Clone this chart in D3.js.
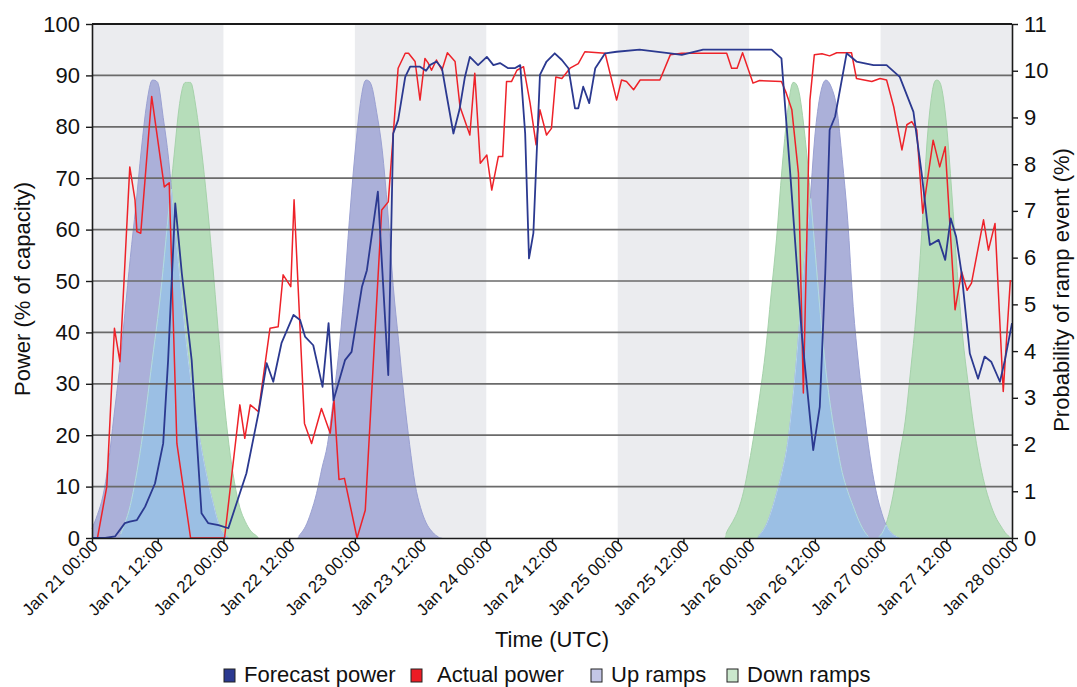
<!DOCTYPE html>
<html>
<head>
<meta charset="utf-8">
<script src="https://cdn.jsdelivr.net/npm/d3@7"></script>
<style>
  html, body { margin: 0; padding: 0; background: #ffffff; }
  svg { display: block; font-family: "Liberation Sans", Arial, Helvetica, sans-serif; }
</style>
</head>
<body>
<svg id="chart" width="1077" height="687"></svg>
<script>
// ---- data -------------------------------------------------------------
// time is given in hours after Jan 21 00:00 UTC
const periodStart = Date.UTC(2013, 0, 21);
const periodEnd = Date.UTC(2013, 0, 28);
const shadedDays = ["2013-01-21", "2013-01-23", "2013-01-25", "2013-01-27"];
const powerTicks = [0, 10, 20, 30, 40, 50, 60, 70, 80, 90, 100];
const probTicks = [0, 1, 2, 3, 4, 5, 6, 7, 8, 9, 10, 11];

// [hour, power % of capacity]
const forecastPower = [
  [0,0],[2.4,0],[4.2,0.3],[6,2.9],[6.9,3.2],[8.2,3.5],[9.7,6.1],[11.5,10.6],[13,18.4],[13.9,34.6],
  [15.2,65.1],[16.4,51.5],[18.2,34.6],[20,4.8],[21.2,2.9],[23.1,2.5],[24.9,1.9],[28.2,12.6],[30.4,24.3],
  [31.9,34],[33.1,30.4],[34.6,37.9],[36.8,43.4],[38,42.4],[38.9,39.2],[40.4,37.5],[42.1,29.4],[43.2,41.8],
  [44.1,26.8],[46.2,34.6],[47.4,36.2],[49.3,48.9],[50.2,52.1],[52.2,67.4],[54.1,31.7],[55,78.7],[55.9,81.3],
  [57.2,89.7],[58.1,91.7],[59.9,91.7],[61,90.9],[61.7,92],[62.9,92.7],[63.9,91.4],[64.8,85.9],[66,78.7],
  [67.1,83.3],[68.1,89.7],[69,93.6],[70.5,92],[72.1,93.6],[73.3,92],[74.5,92.4],[76,91.4],[77.2,91.4],
  [78.2,92],[79.1,78.7],[79.8,54.4],[80.6,59.3],[81.8,90.1],[83,92.7],[84.5,94.3],[85.8,93],[87,91.4],
  [88.2,83.6],[88.8,83.6],[89.7,87.8],[90.8,84.6],[91.9,91.4],[93.7,94.3],[95.8,94.6],[100,95],[105.6,94.3],
  [107.7,94],[111.6,95],[124.1,95],[125.9,93.3],[127.5,71],[129.6,39.8],[131.7,17.1],[132.9,25.5],
  [133.9,51.5],[134.7,79.4],[135.7,82],[137.8,94.3],[139.6,92.7],[142.7,92],[145.1,92],[147.5,89.7],
  [150,82.9],[151.5,71],[153,57],[154.6,58],[155.8,54.1],[156.8,62.2],[157.8,58.6],[158.8,51.5],
  [160.3,35.9],[161.8,31],[163,35.3],[164.2,34.3],[165.8,30.4],[166.7,34.6],[168,41.8]
];

const actualPower = [
  [1,0],[2.7,10],[4.1,40.8],[5.1,34.3],[6.9,72.2],[7.85,65.8],[8.2,59.6],[8.9,59.3],[10.9,85.9],
  [13.2,68.3],[14.1,69.1],[15.5,18.4],[18,0],[24.2,0],[27,25.9],[27.9,19.4],[28.9,25.9],[30.4,24.6],
  [32.5,40.8],[34,41.1],[34.9,51.2],[36.3,48.9],[36.9,65.8],[38.8,22.3],[40.1,18.4],[41.9,25.2],
  [43.5,20.4],[44.2,26.8],[45.1,11.4],[46.1,11.6],[48.4,0],[49.9,5.4],[52.9,63.8],[54.1,65.4],
  [55.9,91.4],[57.2,94.3],[57.8,94.3],[59,92.7],[59.9,85.2],[60.8,93.3],[61.4,92.4],[62,91],[62.9,93],
  [63.9,91],[64.9,94.4],[66.3,92.7],[67.2,83.9],[69,78.4],[69.9,90.4],[70.9,72.9],[72.1,74.5],[73,67.7],
  [74.2,74.2],[75,74.2],[75.7,88.8],[76.6,88.8],[77.6,91],[78.8,91.7],[80,84.6],[81.1,76.5],[81.8,83.3],
  [83,78.4],[83.9,79.7],[84.7,89.7],[85.8,89.4],[87.3,91.4],[88.8,92.3],[90,94.6],[93.7,94.3],[95.8,85.2],
  [96.7,89.1],[97.6,88.8],[98.9,87.2],[100.1,89.1],[103.7,89.1],[105.6,94],[107.7,94.3],[115.9,94.3],
  [116.8,91.4],[117.8,91.4],[118.8,94.4],[120.7,88.5],[121.9,89],[125.9,88.8],[126.8,86.5],[127.8,83.3],
  [129,71],[129.9,28.2],[131.1,85.2],[131.9,94],[133.3,94.2],[134.7,93.8],[136,94.4],[138.7,94.4],
  [139.6,89.4],[142.4,88.8],[143.9,89.4],[145.1,89.1],[146.4,83.9],[147.9,75.5],[148.8,80.4],[149.7,81],
  [150.6,79.4],[151.7,63.2],[153.6,77.4],[154.8,72.2],[155.8,76.1],[157.6,44.4],[158.8,51.8],[159.8,48.2],
  [160.6,49.6],[162.8,61.9],[163.7,56],[164.9,61.2],[166.4,28.5],[167.7,50.2]
];

// [hour, probability of a ramp event %]
const upRampJan21 = [
  [0,0.2],[1,0.5],[2,0.9],[3,1.6],[4,2.6],[5,3.6],[6,4.8],[7,6.0],[8,7.1],[9,8.3],[10,9.3],[11,9.8],
  [12,9.75],[13,9.0],[14,8.1],[15,6.8],[16,5.6],[17,4.4],[18,3.4],[19,2.6],[20,1.9],[21,1.3],[22,0.8],
  [23,0.35],[24,0.1],[25,0]
];
const upRampJan23 = [
  [37.5,0],[39,0.25],[40,0.55],[41,0.95],[42,1.5],[43,2.0],[44,2.9],[45,3.9],[46,5.2],[47,6.8],[48,8.2],
  [49,9.3],[50,9.8],[51,9.7],[52,9.1],[53,8.3],[54,7.0],[55,5.4],[56,4.2],[57,3.0],[58,2.0],[59,1.15],
  [60,0.65],[61,0.33],[62,0.15],[63,0.04],[64,0]
];
const upRampJan26 = [
  [121.5,0],[123,0.25],[124,0.55],[125,0.95],[126,1.4],[127,2.0],[128,3.0],[129,4.3],[130,5.8],[131,7.0],
  [132,8.6],[133,9.5],[134,9.8],[135,9.65],[136,9.2],[137,8.1],[138,6.8],[139,4.95],[140,3.7],[141,2.7],
  [142,1.8],[143,1.1],[144,0.62],[145,0.28],[146,0.1],[147.5,0]
];
const downRampJan21 = [
  [5,0],[7,0.7],[9,2.0],[11,3.8],[12.5,5.2],[14,7.0],[15,8.2],[16,9.3],[17,9.75],[18,9.75],[19,9.2],
  [20,8.3],[21,7.2],[22,5.9],[23,4.5],[24,3.1],[25,2.0],[26,1.2],[27,0.65],[28,0.35],[29,0.15],[30,0.05],
  [30.5,0]
];
const downRampJan26 = [
  [115.5,0],[116,0.15],[117,0.35],[118,0.6],[119,1.0],[120,1.6],[121,2.3],[122,3.1],[123,4.0],[124,5.2],
  [125,6.4],[126,7.9],[127,9.1],[128,9.75],[129,9.6],[130,8.8],[131,7.6],[132,6.2],[133,4.8],[134,3.6],
  [135,2.7],[136,2.0],[137,1.4],[138,1.0],[139,0.68],[140,0.38],[141,0.15],[142,0]
];
const downRampJan27 = [
  [143.5,0],[144.5,0.15],[145.5,0.5],[146.5,1.05],[147.5,1.8],[148.5,2.5],[149.5,3.6],[150.5,4.8],
  [151.5,6.5],[152.5,8.5],[153.5,9.6],[154.2,9.8],[155,9.7],[156,8.9],[157,7.4],[158,5.7],[159,4.3],
  [160,3.3],[161,2.4],[162,1.7],[163,1.15],[164,0.75],[165,0.45],[166,0.25],[167,0.08],[168,0]
];
const upRamps = [upRampJan21, upRampJan23, upRampJan26];
const downRamps = [downRampJan21, downRampJan26, downRampJan27];

const legendLabels = ["Forecast power", "Actual power", "Up ramps", "Down ramps"];
const legendFills = ["#2b3990", "#ed1c24", "#c3c6e6", "#cbe8cd"];

// ---- layout -----------------------------------------------------------
const svg = d3.select("#chart");
const plot = { left: 92, right: 1012, top: 24, bottom: 538 };
const hourToDate = h => new Date(periodStart + h * 3600e3);

const x = d3.scaleUtc().domain([new Date(periodStart), new Date(periodEnd)]).range([plot.left, plot.right]);
const yPower = d3.scaleLinear().domain([0, 100]).range([plot.bottom, plot.top]);
const yProb = d3.scaleLinear().domain([0, 11]).range([plot.bottom, plot.top]);

const colors = {
  band: "#ebecef",
  up: "#abb0d9",
  down: "#b6ddba",
  both: "#9bbfe4",
  grid: "#6a6a6a",
  forecast: "#2b3990",
  actual: "#ee2229"
};

// alternate-day shading
svg.append("g").selectAll("rect").data(shadedDays).join("rect")
  .attr("x", d => x(new Date(d + "T00:00:00Z")))
  .attr("y", plot.top)
  .attr("width", d => x(d3.utcDay.offset(new Date(d + "T00:00:00Z"), 1)) - x(new Date(d + "T00:00:00Z")))
  .attr("height", plot.bottom - plot.top)
  .attr("fill", colors.band);

// ---- ramp probability areas --------------------------------------------
// monotone cubic (Fritsch-Carlson) interpolation of one ramp curve
function monotoneInterpolator(pts) {
  const n = pts.length, xs = pts.map(p => p[0]), ys = pts.map(p => p[1]);
  const d = [], m = new Array(n);
  for (let i = 0; i < n - 1; i++) d.push((ys[i + 1] - ys[i]) / (xs[i + 1] - xs[i]));
  m[0] = d[0]; m[n - 1] = d[n - 2];
  for (let i = 1; i < n - 1; i++) m[i] = d[i - 1] * d[i] <= 0 ? 0 : (d[i - 1] + d[i]) / 2;
  for (let i = 0; i < n - 1; i++) {
    if (d[i] === 0) { m[i] = 0; m[i + 1] = 0; continue; }
    const a = m[i] / d[i], b = m[i + 1] / d[i], s = a * a + b * b;
    if (s > 9) { const t = 3 / Math.sqrt(s); m[i] = t * a * d[i]; m[i + 1] = t * b * d[i]; }
  }
  return h => {
    if (h < xs[0] || h > xs[n - 1]) return 0;
    let i = d3.bisectRight(xs, h) - 1;
    if (i >= n - 1) i = n - 2;
    const w = xs[i + 1] - xs[i], t = (h - xs[i]) / w;
    const t2 = t * t, t3 = t2 * t;
    const v = (2 * t3 - 3 * t2 + 1) * ys[i] + (t3 - 2 * t2 + t) * w * m[i]
            + (-2 * t3 + 3 * t2) * ys[i + 1] + (t3 - t2) * w * m[i + 1];
    return Math.max(0, v);
  };
}
const upFns = upRamps.map(monotoneInterpolator);
const downFns = downRamps.map(monotoneInterpolator);
const hours = d3.range(0, 168.0001, 0.25);
const upSeries = hours.map(h => [h, d3.max(upFns, f => f(h))]);
const downSeries = hours.map(h => [h, d3.max(downFns, f => f(h))]);
const bothSeries = hours.map((h, i) => [h, Math.min(upSeries[i][1], downSeries[i][1])]);

const area = d3.area()
  .x(d => x(hourToDate(d[0])))
  .y0(yProb(0))
  .y1(d => yProb(d[1]))
  .curve(d3.curveLinear);
const edge = d3.line()
  .defined(d => d[1] > 0.02)
  .x(d => x(hourToDate(d[0])))
  .y(d => yProb(d[1]));

const rampLayer = svg.append("g");
rampLayer.append("path").datum(downSeries).attr("d", area).attr("fill", colors.down);
rampLayer.append("path").datum(upSeries).attr("d", area).attr("fill", colors.up);
rampLayer.append("path").datum(bothSeries).attr("d", area).attr("fill", colors.both);
rampLayer.append("path").datum(downSeries).attr("d", edge)
  .attr("fill", "none").attr("stroke", "#a6d2ab").attr("stroke-width", 1);
rampLayer.append("path").datum(upSeries).attr("d", edge)
  .attr("fill", "none").attr("stroke", "#9ba1d2").attr("stroke-width", 1);
rampLayer.append("path").datum(bothSeries).attr("d", edge)
  .attr("fill", "none").attr("stroke", "#b3d6ee").attr("stroke-width", 1);

// ---- horizontal grid ---------------------------------------------------
svg.append("g").selectAll("line").data(powerTicks.filter(v => v > 0 && v < 100)).join("line")
  .attr("x1", plot.left).attr("x2", plot.right)
  .attr("y1", d => yPower(d)).attr("y2", d => yPower(d))
  .attr("stroke", colors.grid).attr("stroke-width", 1.7);
svg.append("line")
  .attr("x1", plot.left).attr("x2", plot.right)
  .attr("y1", yPower(100)).attr("y2", yPower(100))
  .attr("stroke", "#1a1a1a").attr("stroke-width", 1.8);

// ---- power lines -------------------------------------------------------
const powerLine = d3.line()
  .x(d => x(hourToDate(d[0])))
  .y(d => yPower(d[1]));
svg.append("path").datum(actualPower).attr("d", powerLine)
  .attr("fill", "none").attr("stroke", colors.actual).attr("stroke-width", 1.5)
  .attr("stroke-linejoin", "round");
svg.append("path").datum(forecastPower).attr("d", powerLine)
  .attr("fill", "none").attr("stroke", colors.forecast).attr("stroke-width", 1.8)
  .attr("stroke-linejoin", "round");

// ---- axes --------------------------------------------------------------
function styleAxis(g, size) {
  g.selectAll(".domain").attr("stroke", "#1a1a1a").attr("stroke-width", 1.6);
  g.selectAll(".tick line").attr("stroke", "#1a1a1a").attr("stroke-width", 1.4);
  g.selectAll(".tick text").attr("fill", "#111").style("font-size", size + "px");
}

const xAxis = svg.append("g")
  .attr("transform", `translate(0,${plot.bottom})`)
  .call(d3.axisBottom(x)
    .ticks(d3.utcHour.every(12))
    .tickFormat(d3.utcFormat("%b %d %H:%M"))
    .tickSize(6).tickSizeOuter(0));
styleAxis(xAxis, 17);
xAxis.selectAll(".tick text")
  .attr("text-anchor", "end")
  .attr("x", -2).attr("y", 5).attr("dy", "0.35em")
  .attr("transform", "rotate(-45)");

const leftAxis = svg.append("g")
  .attr("transform", `translate(${plot.left},0)`)
  .call(d3.axisLeft(yPower).tickValues(powerTicks).tickSize(6).tickPadding(6).tickSizeOuter(0));
styleAxis(leftAxis, 22);

const rightAxis = svg.append("g")
  .attr("transform", `translate(${plot.right},0)`)
  .call(d3.axisRight(yProb).tickValues(probTicks).tickSize(6).tickPadding(6).tickSizeOuter(0));
styleAxis(rightAxis, 22);

// ---- axis titles -------------------------------------------------------
svg.append("text")
  .attr("transform", `translate(30,${(plot.top + plot.bottom) / 2 + 8}) rotate(-90)`)
  .attr("text-anchor", "middle").style("font-size", "22px").attr("fill", "#111")
  .text("Power (% of capacity)");
svg.append("text")
  .attr("transform", `translate(1069,${(plot.top + plot.bottom) / 2 + 9}) rotate(-90)`)
  .attr("text-anchor", "middle").style("font-size", "22px").attr("fill", "#111")
  .text("Probability of ramp event (%)");
svg.append("text")
  .attr("x", (plot.left + plot.right) / 2).attr("y", 647)
  .attr("text-anchor", "middle").style("font-size", "22px").attr("fill", "#111")
  .text("Time (UTC)");

// ---- legend ------------------------------------------------------------
const legendStarts = [224, 411, 591, 727];
const legend = svg.append("g").attr("transform", "translate(0,675)");
const legendItem = legend.selectAll("g").data(legendLabels).join("g")
  .attr("transform", (d, i) => `translate(${legendStarts[i]},0)`);
legendItem.append("rect")
  .attr("x", 0).attr("y", -6).attr("width", 11).attr("height", 13)
  .attr("fill", (d, i) => legendFills[i]).attr("stroke", "#222").attr("stroke-width", 1);
legendItem.append("text")
  .attr("x", (d, i) => i === 1 ? 26 : 20).attr("y", 7)
  .style("font-size", "22px").attr("fill", "#111")
  .text(d => d);
</script>
</body>
</html>
